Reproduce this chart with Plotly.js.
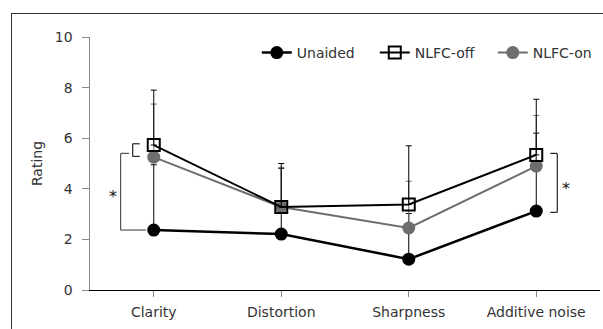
<!DOCTYPE html>
<html><head><meta charset="utf-8">
<script src="https://cdn.plot.ly/plotly-3.0.1.min.js"></script>
<style>
html,body{margin:0;padding:0;background:#fff;overflow:hidden;width:603px;height:329px;}
#wrap{position:relative;width:603px;height:329px;overflow:hidden;}
#chart{position:absolute;left:0;top:0;width:603px;height:329px;}
#frame{position:absolute;left:11px;top:13px;width:592px;height:316px;border-left:1px solid #333;border-top:1px solid #333;box-sizing:border-box;pointer-events:none;}
</style></head>
<body><div id="wrap"><div id="chart"></div><div id="frame"></div></div>
<script>
const categories = ['Clarity', 'Distortion', 'Sharpness', 'Additive noise'];
const unaided = [2.37, 2.21, 1.22, 3.12];
const unaidedErr = [2.58, 2.6, 1.8, 3.08];
const nlfcOff = [5.73, 3.28, 3.38, 5.34];
const nlfcOffErr = [2.17, 1.72, 2.32, 2.2];
const nlfcOn = [5.25, 3.28, 2.45, 4.9];
const nlfcOnErr = [2.1, 1.57, 1.85, 2.0];
const yTicks = [0, 2, 4, 6, 8, 10];
const zeros = [0, 0, 0, 0];

const FONT = 'DejaVu Sans, sans-serif';
const GREY = '#6e6e6e';

const traces = [
  {name: 'Unaided', x: categories, y: unaided, type: 'scatter', mode: 'lines+markers',
   line: {color: '#000', width: 2.5}, marker: {symbol: 'circle', size: 13, color: '#000'},
   error_y: {type: 'data', symmetric: false, array: unaidedErr, arrayminus: zeros, color: '#000', thickness: 1, width: 3},
   legendrank: 1},
  {name: 'NLFC-on', x: categories, y: nlfcOn, type: 'scatter', mode: 'lines+markers',
   line: {color: GREY, width: 2}, marker: {symbol: 'circle', size: 13, color: GREY},
   error_y: {type: 'data', symmetric: false, array: nlfcOnErr, arrayminus: zeros, color: GREY, thickness: 1, width: 3},
   legendrank: 3},
  {name: 'NLFC-off', x: categories, y: nlfcOff, type: 'scatter', mode: 'lines+markers',
   line: {color: '#000', width: 2}, marker: {symbol: 'square-open', size: 12, color: '#000', line: {width: 2, color: '#000'}},
   error_y: {type: 'data', symmetric: false, array: nlfcOffErr, arrayminus: zeros, color: '#000', thickness: 1, width: 3},
   legendrank: 2}
];

// significance brackets
const bx = (i, off) => i + off;
const shapes = [];
function bracket(xv, xs, y0, y1, col) {
  shapes.push({type: 'line', xref: 'x', yref: 'y', x0: xv, x1: xv, y0: y0, y1: y1, line: {color: col, width: 1.2}});
  shapes.push({type: 'line', xref: 'x', yref: 'y', x0: xv, x1: xs[0], y0: y1, y1: y1, line: {color: col, width: 1.2}});
  shapes.push({type: 'line', xref: 'x', yref: 'y', x0: xv, x1: xs[1], y0: y0, y1: y0, line: {color: col, width: 1.2}});
}
bracket(bx(0, -0.26), [bx(0, -0.195), bx(0, -0.06)], unaided[0], 5.4, '#555');
bracket(bx(0, -0.165), [bx(0, -0.11), bx(0, -0.11)], nlfcOn[0] + 0.03, nlfcOff[0] + 0.05, '#222');
bracket(bx(3, 0.165), [bx(3, 0.11), bx(3, 0.11)], unaided[3] - 0.05, 5.4, '#222');

const annotations = [
  {xref: 'x', yref: 'y', x: bx(0, -0.32), y: 3.7, text: '*', showarrow: false, font: {family: FONT, size: 16, color: '#111'}},
  {xref: 'x', yref: 'y', x: bx(3, 0.23), y: 4.0, text: '*', showarrow: false, font: {family: FONT, size: 16, color: '#111'}}
];

const layout = {
  width: 603, height: 329,
  margin: {l: 90, r: 3, t: 37, b: 39, pad: 0, autoexpand: false},
  paper_bgcolor: '#fff', plot_bgcolor: '#fff',
  font: {family: FONT, size: 14, color: '#333'},
  showlegend: true,
  legend: {orientation: 'h', x: 0.327, xanchor: 'left', y: 1.0, yanchor: 'top',
    font: {family: FONT, size: 14, color: '#333'}, itemwidth: 30, bgcolor: 'rgba(0,0,0,0)', traceorder: 'normal',
    entrywidth: 73, entrywidthmode: 'pixels'},
  xaxis: {type: 'category', range: [-0.5, 3.5], showline: true, linecolor: '#000', linewidth: 1,
    ticks: 'outside', ticklen: 6, tickcolor: '#888', tickwidth: 1, showgrid: false, zeroline: false,
    ticklabelstandoff: 3,
    tickfont: {family: FONT, size: 14, color: '#333'}, fixedrange: true},
  yaxis: {range: [0, 10], tickvals: yTicks, showline: true, linecolor: '#888', linewidth: 1.5,
    ticks: 'outside', ticklen: 7, tickcolor: '#888', tickwidth: 1, showgrid: false, zeroline: false,
    ticklabelstandoff: 6,
    tickfont: {family: FONT, size: 14, color: '#333'},
    title: {text: 'Rating', font: {family: FONT, size: 14, color: '#333'}, standoff: 9}, automargin: false},
  shapes: shapes,
  annotations: annotations
};

Plotly.newPlot('chart', traces, layout, {displayModeBar: false, staticPlot: true});
</script></body></html>
